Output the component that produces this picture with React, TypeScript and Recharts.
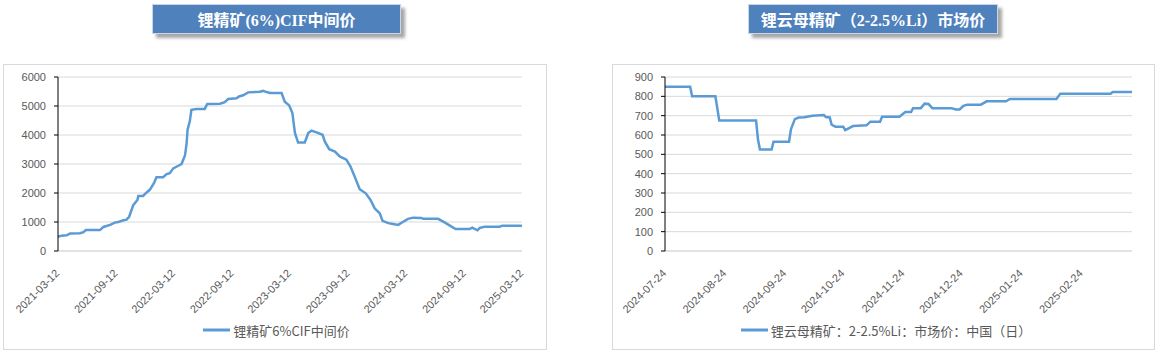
import { LineChart, Line, XAxis, YAxis, CartesianGrid, Legend } from "recharts";

// 锂精矿(6%)CIF中间价
const cifDates = [
  "2021-03-12", "2021-03-23", "2021-04-08", "2021-04-19", "2021-05-20", "2021-05-31", "2021-06-08",
  "2021-07-22", "2021-08-02", "2021-08-23", "2021-09-07", "2021-09-18", "2021-10-04", "2021-10-14",
  "2021-10-22", "2021-11-04", "2021-11-17", "2021-11-20", "2021-12-05", "2021-12-16", "2021-12-26",
  "2022-01-08", "2022-01-16", "2022-02-06", "2022-02-17", "2022-02-27", "2022-03-10", "2022-03-26",
  "2022-04-05", "2022-04-16", "2022-04-21", "2022-04-24", "2022-05-01", "2022-05-06", "2022-05-22",
  "2022-06-17", "2022-06-25", "2022-08-04", "2022-08-19", "2022-08-30", "2022-09-25", "2022-10-03",
  "2022-10-16", "2022-11-01", "2022-12-07", "2022-12-18", "2022-12-29", "2023-01-08", "2023-02-14",
  "2023-02-24", "2023-03-10", "2023-03-20", "2023-03-28", "2023-04-07", "2023-04-28", "2023-05-09",
  "2023-05-19", "2023-06-04", "2023-06-23", "2023-06-30", "2023-07-14", "2023-08-01", "2023-08-16",
  "2023-09-06", "2023-09-19", "2023-10-02", "2023-10-18", "2023-11-06", "2023-11-21", "2023-12-04",
  "2023-12-20", "2023-12-29", "2024-01-16", "2024-01-31", "2024-02-16", "2024-03-03", "2024-03-18",
  "2024-04-03", "2024-04-29", "2024-05-05", "2024-06-21", "2024-07-07", "2024-07-28", "2024-08-15",
  "2024-09-28", "2024-10-07", "2024-10-14", "2024-10-23", "2024-10-30", "2024-11-15", "2025-01-01",
  "2025-01-09", "2025-03-05", "2025-03-12",
];
const cifPrices = [
  490, 530, 540, 600, 610, 650, 720,
  720, 830, 900, 980, 1000, 1060, 1080,
  1180, 1580, 1760, 1900, 1900, 2020, 2110,
  2340, 2545, 2545, 2650, 2680, 2850, 2940,
  3000, 3300, 3720, 4180, 4470, 4870, 4900,
  4900, 5070, 5080, 5130, 5240, 5270, 5330,
  5370, 5470, 5490, 5520, 5480, 5450, 5450,
  5150, 5020, 4760, 4070, 3740, 3740, 4070,
  4150, 4090, 4010, 3780, 3510, 3430, 3260,
  3150, 2910, 2570, 2130, 1990, 1760, 1470,
  1300, 1040, 960, 930, 900, 1010, 1110,
  1150, 1140, 1110, 1110, 1010, 875, 760,
  760, 805, 760, 715, 795, 840, 840,
  875, 875, 860,
];
const cifTicks = [
  "2021-03-12", "2021-09-12", "2022-03-12", "2022-09-12", "2023-03-12",
  "2023-09-12", "2024-03-12", "2024-09-12", "2025-03-12",
];

// 锂云母精矿（2-2.5%Li）市场价
const lepDates = [
  "2024-07-24", "2024-08-06", "2024-08-07", "2024-08-19", "2024-08-21", "2024-09-09", "2024-09-10",
  "2024-09-11", "2024-09-17", "2024-09-18", "2024-09-26", "2024-09-27", "2024-09-29", "2024-10-01",
  "2024-10-04", "2024-10-08", "2024-10-14", "2024-10-15", "2024-10-17", "2024-10-18", "2024-10-20",
  "2024-10-24", "2024-10-25", "2024-10-27", "2024-10-29", "2024-11-05", "2024-11-07", "2024-11-12",
  "2024-11-13", "2024-11-22", "2024-11-25", "2024-11-28", "2024-11-29", "2024-12-03", "2024-12-05",
  "2024-12-07", "2024-12-09", "2024-12-19", "2024-12-21", "2024-12-23", "2024-12-25", "2024-12-27",
  "2025-01-03", "2025-01-06", "2025-01-16", "2025-01-18", "2025-02-11", "2025-02-13", "2025-03-11",
  "2025-03-12", "2025-03-22",
];
const lepPrices = [
  850, 850, 800, 800, 675, 675, 575,
  525, 525, 565, 565, 630, 682, 690,
  692, 700, 703, 693, 691, 653, 643,
  643, 625, 636, 646, 650, 669, 669,
  694, 694, 719, 719, 739, 739, 762,
  760, 739, 739, 732, 732, 751, 757,
  757, 774, 774, 786, 786, 814, 814,
  822, 822,
];
const lepTicks = [
  "2024-07-24", "2024-08-24", "2024-09-24", "2024-10-24",
  "2024-11-24", "2024-12-24", "2025-01-24", "2025-02-24",
];

const toTime = (d: string) => Date.parse(d + "T00:00:00Z");
const fmt = (t: number) => new Date(t).toISOString().slice(0, 10);

const LINE = "#5B9BD5";
const GRID = "#d9d9d9";
const TEXT = "#595959";
const FONT = "'Liberation Sans', Arial, sans-serif";

const DateTick = ({ x, y, payload }: any) => {
  const px = x + 2;
  const py = y + 15;
  return (
    <text
      x={px}
      y={py}
      textAnchor="end"
      transform={`rotate(-45, ${px}, ${py})`}
      fill={TEXT}
      fontSize={11}
      fontFamily={FONT}
    >
      {fmt(payload.value)}
    </text>
  );
};

const LegendLine = ({ payload }: any) => (
  <div style={{ display: "flex", justifyContent: "center", alignItems: "center", height: 20, paddingLeft: 27 }}>
    {(payload || []).map((p: any) => (
      <div key={p.value} style={{ display: "flex", alignItems: "center" }}>
        <svg width={27} height={6}>
          <line x1={0} y1={3} x2={27} y2={3} stroke={p.color} strokeWidth={3} />
        </svg>
        <span
          style={{
            marginLeft: 3,
            color: TEXT,
            fontSize: 13,
            fontFamily: "'Noto Sans CJK SC', 'Noto Sans', sans-serif",
          }}
        >
          {p.value}
        </span>
      </div>
    ))}
  </div>
);

const Title = ({ left, width, text }: { left: number; width: number; text: string }) => (
  <div
    style={{
      position: "absolute",
      left,
      top: 4,
      width,
      height: 30,
      boxSizing: "border-box",
      background: "#4F81BD",
      border: "1px solid #c9d6ea",
      boxShadow: "4px 4px 3px rgba(0,0,0,0.35)",
      color: "#fff",
      fontWeight: "bold",
      fontSize: 16,
      fontFamily: "'Liberation Serif', 'Noto Sans CJK SC', serif",
      display: "flex",
      alignItems: "center",
      justifyContent: "center",
    }}
  >
    {text}
  </div>
);

type PanelProps = {
  left: number;
  width: number;
  yWidth: number;
  right: number;
  dates: string[];
  values: number[];
  ticks: string[];
  yMax: number;
  yStep: number;
  name: string;
};

const Panel = ({ left, width, yWidth, right, dates, values, ticks, yMax, yStep, name }: PanelProps) => {
  const data = dates.map((d, i) => ({ t: toTime(d), v: values[i] }));
  const yTicks: number[] = [];
  for (let v = 0; v <= yMax; v += yStep) yTicks.push(v);
  return (
    <div
      style={{
        position: "absolute",
        left,
        top: 64,
        width,
        height: 286,
        boxSizing: "border-box",
        border: `1px solid ${GRID}`,
        background: "#fff",
      }}
    >
      <LineChart width={width - 2} height={284} data={data} margin={{ top: 12, right, bottom: 9, left: 0 }}>
        <CartesianGrid vertical={false} stroke={GRID} />
        <XAxis
          dataKey="t"
          type="number"
          scale="time"
          domain={["dataMin", "dataMax"]}
          ticks={ticks.map(toTime)}
          tick={<DateTick />}
          tickLine={false}
          axisLine={{ stroke: GRID }}
          height={69}
          interval={0}
        />
        <YAxis
          width={yWidth}
          domain={[0, yMax]}
          ticks={yTicks}
          interval={0}
          tickSize={4}
          tickMargin={8}
          axisLine={{ stroke: "#000" }}
          tickLine={{ stroke: "#000" }}
          tick={{ fill: TEXT, fontSize: 11, fontFamily: FONT }}
        />
        <Legend verticalAlign="bottom" height={20} content={<LegendLine />} />
        <Line
          type="linear"
          dataKey="v"
          name={name}
          stroke={LINE}
          strokeWidth={2.5}
          dot={false}
          isAnimationActive={false}
        />
      </LineChart>
    </div>
  );
};

export default function App() {
  return (
    <div
      style={{
        position: "absolute",
        left: 0,
        top: 0,
        width: 1161,
        height: 353,
        background: "#fff",
        overflow: "hidden",
      }}
    >
      <Title left={152} width={249} text="锂精矿(6%)CIF中间价" />
      <Title left={748} width={250} text="锂云母精矿（2-2.5%Li）市场价" />
      <Panel
        left={3}
        width={544}
        yWidth={54}
        right={24}
        dates={cifDates}
        values={cifPrices}
        ticks={cifTicks}
        yMax={6000}
        yStep={1000}
        name="锂精矿6%CIF中间价"
      />
      <Panel
        left={612}
        width={543}
        yWidth={52}
        right={22}
        dates={lepDates}
        values={lepPrices}
        ticks={lepTicks}
        yMax={900}
        yStep={100}
        name="锂云母精矿：2-2.5%Li：市场价：中国（日）"
      />
    </div>
  );
}
